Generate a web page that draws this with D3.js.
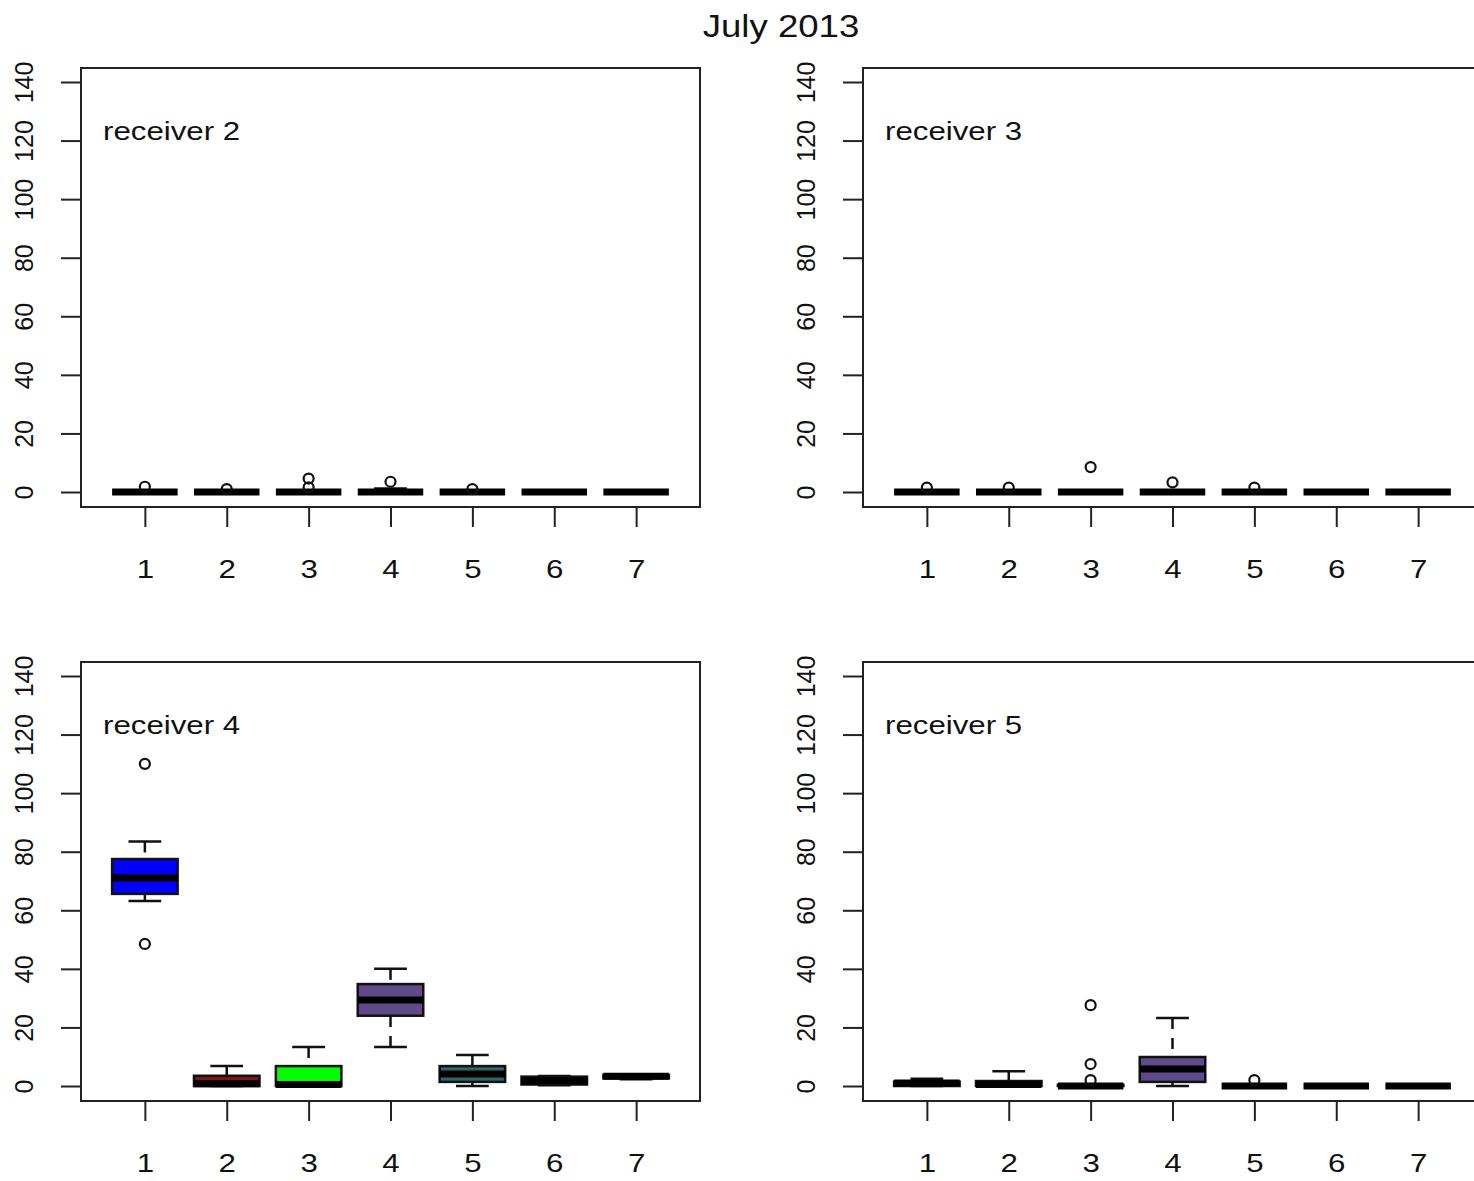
<!DOCTYPE html>
<html>
<head>
<meta charset="utf-8">
<script src="https://cdn.jsdelivr.net/npm/d3@7"></script>
<style>
  html, body { margin: 0; padding: 0; background: #fff; }
  svg { display: block; }
  text { font-family: "Liberation Sans", Arial, sans-serif; fill: #111; }
</style>
</head>
<body>
<svg id="chart" width="1474" height="1181"></svg>
<script>
// ---------- data ----------
const chartTitle = "July 2013";
const groups = [1, 2, 3, 4, 5, 6, 7];
const yTicks = [0, 20, 40, 60, 80, 100, 120, 140];
const boxColors = ["#0000ff", "#7d1616", "#00ff00", "#5f4b8b", "#2f6868", "#161616", "#000000"];
const receiverNames = ["receiver 2", "receiver 3", "receiver 4", "receiver 5"];

// stats per group: [lower whisker, Q1, median, Q3, upper whisker]
const rec2Stats = [[0,0,0,0,0],[0,0,0,0,0],[0,0,0,0,0],[0,0,0,0,1.2],[0,0,0,0,0],[0,0,0,0,0],[0,0,0,0,0]];
const rec2Outliers = [[1.8],[1.0],[4.6,1.6],[3.5],[1.0],[],[]];

const rec3Stats = [[0,0,0,0,0],[0,0,0,0,0],[0,0,0,0,0],[0,0,0,0,0],[0,0,0,0,0],[0,0,0,0,0],[0,0,0,0,0]];
const rec3Outliers = [[1.5],[1.5],[8.5],[3.3],[1.5],[],[]];

const rec4Stats = [[63.2,65.6,71,77.5,83.5],[0,0,0.8,3.5,6.8],[0,0,0.5,6.8,13.3],[13.3,24,29.4,34.8,40],[0,1.4,4.1,6.8,10.6],[0.3,0.5,1.8,3.2,3.4],[2.3,2.6,3.3,3.8,4.0]];
const rec4Outliers = [[110,48.5],[],[],[],[],[],[]];

const rec5Stats = [[0,0,1,1.5,2.5],[0,0,0.5,1.7,5],[0,0,0,0.4,0.5],[0,1.4,5.8,9.9,23.2],[0,0,0,0,0],[0,0,0,0,0],[0,0,0,0,0]];
const rec5Outliers = [[],[],[27.6,7.5,2.0],[],[2.0],[],[]];

const panelStats = [rec2Stats, rec3Stats, rec4Stats, rec5Stats];
const panelOutliers = [rec2Outliers, rec3Outliers, rec4Outliers, rec5Outliers];

// ---------- layout ----------
const svg = d3.select("#chart");
const panelW = 619, panelH = 439;
const panelOrigins = [[81, 68], [863, 68], [81, 662], [863, 662]];
const hStretch = 1.25;

svg.append("text")
  .attr("transform", "translate(781,37) scale(1.18,1)")
  .attr("text-anchor", "middle")
  .style("font-size", "31px")
  .text(chartTitle);

panelOrigins.forEach((o, pi) => {
  const [px, py] = o;
  const g = svg.append("g").attr("transform", `translate(${px},${py})`);
  const x = d3.scaleLinear().domain([0.22, 7.78]).range([0, panelW]);
  const y = d3.scaleLinear().domain([-5.12, 144.78]).range([panelH, 0]);
  const bw = (x(1.4) - x(0.6));
  const cap = bw / 2;

  // frame
  g.append("rect").attr("x", 0).attr("y", 0).attr("width", panelW).attr("height", panelH)
    .attr("fill", "none").attr("stroke", "#222").attr("stroke-width", 2);

  // y axis
  const ya = g.append("g").call(d3.axisLeft(y).tickValues(yTicks).tickSize(20).tickSizeOuter(0));
  ya.select(".domain").remove();
  ya.selectAll(".tick line").attr("stroke", "#222").attr("stroke-width", 2);
  ya.selectAll(".tick text")
    .attr("transform", "rotate(-90)")
    .attr("x", 0).attr("y", -48).attr("dy", 0)
    .attr("text-anchor", "middle")
    .style("font-size", "25px").style("font-family", "Liberation Sans, Arial, sans-serif")
    .attr("fill", "#111");

  // x axis
  const xa = g.append("g").attr("transform", `translate(0,${panelH})`)
    .call(d3.axisBottom(x).tickValues(groups).tickFormat(d3.format("d")).tickSize(20).tickSizeOuter(0));
  xa.select(".domain").remove();
  xa.selectAll(".tick line").attr("stroke", "#222").attr("stroke-width", 2);
  xa.selectAll(".tick text")
    .attr("y", 0).attr("dy", 0)
    .attr("transform", `translate(0,71) scale(${hStretch},1)`)
    .attr("text-anchor", "middle")
    .style("font-size", "25px").style("font-family", "Liberation Sans, Arial, sans-serif")
    .attr("fill", "#111");

  // receiver label
  g.append("text")
    .attr("transform", `translate(22,72) scale(${hStretch},1)`)
    .style("font-size", "25px")
    .text(receiverNames[pi]);

  // boxes
  const clip = "clip" + pi;
  g.append("clipPath").attr("id", clip).append("rect")
    .attr("x", 0).attr("y", 0).attr("width", panelW).attr("height", panelH);
  const bx = g.append("g").attr("clip-path", `url(#${clip})`);
  const stats = panelStats[pi];
  const outs = panelOutliers[pi];
  groups.forEach((gv, i) => {
    const s = stats[i];
    const cx = x(gv);
    const bg = bx.append("g");
    // whiskers (dashed, drawn from whisker end toward box)
    [[s[0], s[1]], [s[4], s[3]]].forEach(([a, b]) => {
      if (Math.abs(y(a) - y(b)) > 0.5) {
        bg.append("line").attr("x1", cx).attr("x2", cx).attr("y1", y(a)).attr("y2", y(b))
          .attr("stroke", "#111").attr("stroke-width", 2.5).attr("stroke-dasharray", "11,9");
      }
      bg.append("line").attr("x1", cx - cap / 2).attr("x2", cx + cap / 2).attr("y1", y(a)).attr("y2", y(a))
        .attr("stroke", "#111").attr("stroke-width", 2.5);
    });
    // box
    bg.append("rect").attr("x", cx - bw / 2).attr("width", bw)
      .attr("y", y(s[3])).attr("height", Math.max(0, y(s[1]) - y(s[3])))
      .attr("fill", boxColors[i]).attr("stroke", "#111").attr("stroke-width", 2.5);
    // median
    bg.append("line").attr("x1", cx - bw / 2).attr("x2", cx + bw / 2).attr("y1", y(s[2])).attr("y2", y(s[2]))
      .attr("stroke", "#000").attr("stroke-width", 7);
    // outliers
    outs[i].forEach(v => {
      bg.append("circle").attr("cx", cx).attr("cy", y(v)).attr("r", 5)
        .attr("fill", "none").attr("stroke", "#111").attr("stroke-width", 2.2);
    });
  });
});
</script>
</body>
</html>
